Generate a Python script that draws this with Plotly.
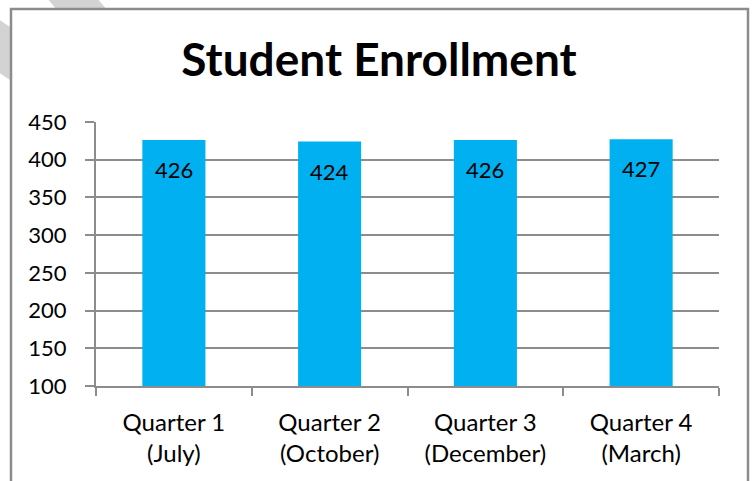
import plotly.graph_objects as go

categories = ["Quarter 1<br>(July)", "Quarter 2<br>(October)", "Quarter 3<br>(December)", "Quarter 4<br>(March)"]
enrollment = [426, 424, 426, 427]
y_ticks = [100, 150, 200, 250, 300, 350, 400, 450]

W, H = 755, 481
ML, MR, MT, MB = 96, 36, 122, 95
PW, PH = W - ML - MR, H - MT - MB

fig = go.Figure(go.Bar(x=categories, y=enrollment, marker=dict(color="#00B0F0", line=dict(width=0)),
                       hoverinfo="skip"))

x_font = dict(family="Lato, Noto Sans, sans-serif", size=24, color="#000000")
num_font = dict(family="Lato, Noto Sans, sans-serif", size=22, color="#000000")

for c, v in zip(categories, enrollment):
    fig.add_annotation(x=c, y=v, text=str(v), showarrow=False, yanchor="top", yshift=-14,
                       font=num_font)

def px(x, y):
    return (x - ML) / PW, (H - MB - y) / PH

def path(pts):
    s = ""
    for i, (x, y) in enumerate(pts):
        xx, yy = px(x, y)
        s += ("M" if i == 0 else "L") + f"{xx:.5f},{yy:.5f} "
    return s + "Z"

# watermark stripes behind the chart box
fig.add_shape(type="path", xref="paper", yref="paper", layer="below",
              path=path([(47, -2), (97, -2), (112, 16), (62, 16)]),
              fillcolor="#d3d3d3", line=dict(width=0))
fig.add_shape(type="path", xref="paper", yref="paper", layer="below",
              path=path([(-2, 19), (16, 31), (16, 84), (-2, 72)]),
              fillcolor="#d3d3d3", line=dict(width=0))
# chart box
x0, y0 = px(11, 9)
x1, y1 = px(748, 495)
fig.add_shape(type="rect", xref="paper", yref="paper", layer="below",
              x0=x0, y0=y1, x1=x1, y1=y0, fillcolor="white",
              line=dict(color="#8c8c8c", width=2.5))

fig.update_layout(
    width=W, height=H,
    margin=dict(l=ML, r=MR, t=MT, b=MB, pad=0),
    paper_bgcolor="white", plot_bgcolor="rgba(0,0,0,0)",
    bargap=0.595,
    showlegend=False,
    title=dict(text="<b>Student Enrollment</b>", x=379 / W, xanchor="center",
               xref="container", y=1 - 60 / H, yref="container", yanchor="middle",
               font=dict(family="Lato, sans-serif", size=46, color="#000000")),
    xaxis=dict(showgrid=False, showline=True, linecolor="#8c8c8c", linewidth=2,
               ticks="outside", tickson="boundaries", ticklen=8, tickcolor="#8c8c8c", tickwidth=2,
               ticklabelstandoff=14,
               tickfont=x_font, fixedrange=True),
    yaxis=dict(range=[100, 450], tickvals=y_ticks, showgrid=True, gridcolor="#8c8c8c", gridwidth=2,
               showline=True, linecolor="#8c8c8c", linewidth=2, zeroline=False,
               ticks="outside", ticklen=9, tickcolor="#8c8c8c", tickwidth=2,
               ticklabelstandoff=14,
               tickfont=num_font, fixedrange=True),
)

fig.write_html("out.html")
